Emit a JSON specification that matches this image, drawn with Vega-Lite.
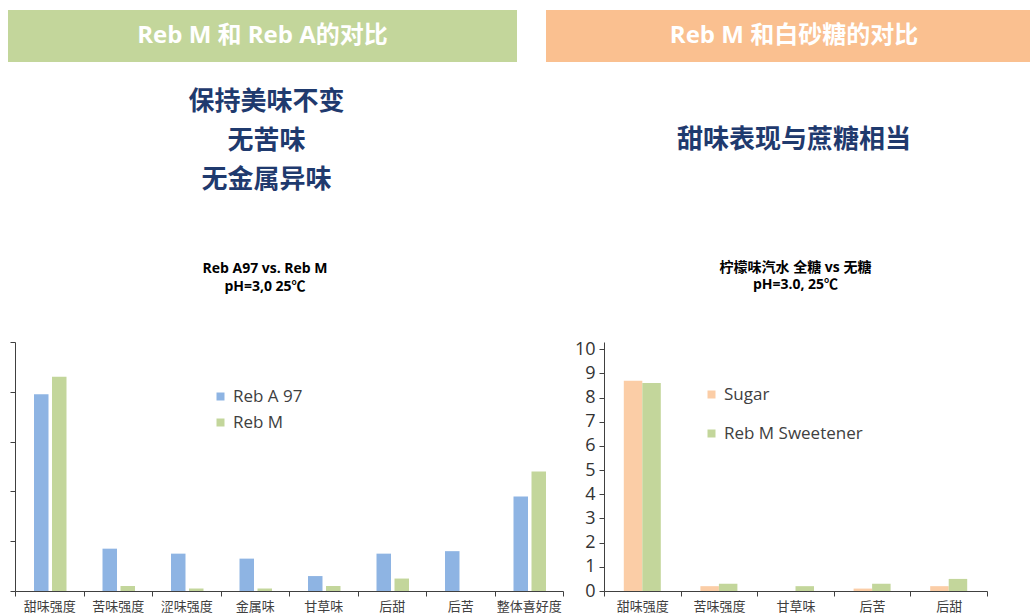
{
  "$schema": "https://vega.github.io/schema/vega-lite/v6.json",
  "background": "white",
  "padding": {"left": 8, "top": 10, "right": 0, "bottom": 0},
  "config": {
    "font": "Open Sans, Noto Sans CJK SC",
    "view": {"stroke": null},
    "axis": {"domainColor": "#404040", "tickColor": "#404040", "labelColor": "#404040", "grid": false, "title": null}
  },
  "resolve": {"scale": {"color": "independent"}, "legend": {"color": "independent"}},
  "spacing": 0,
  "vconcat": [
    {
      "spacing": 29,
      "hconcat": [
        {
          "width": 509, "height": 52,
          "view": {"fill": "#C3D69B", "stroke": null},
          "data": {"values": [{"label": "Reb M 和 Reb A的对比"}]},
          "mark": {"type": "text", "color": "white", "fontSize": 24, "fontWeight": "bold", "font": "Open Sans, Noto Sans CJK SC"},
          "encoding": {"text": {"field": "label"}}
        },
        {
          "width": 484, "height": 52,
          "view": {"fill": "#FAC090", "stroke": null},
          "data": {"values": [{"label": "Reb M 和白砂糖的对比"}]},
          "mark": {"type": "text", "color": "white", "fontSize": 24, "fontWeight": "bold", "dx": 6, "font": "Open Sans, Noto Sans CJK SC"},
          "encoding": {"text": {"field": "label"}}
        }
      ]
    },
    {
      "spacing": 29,
      "hconcat": [
        {
          "width": 509, "height": 198,
          "data": {"values": [{"label": "保持美味不变\n无苦味\n无金属异味"}]},
          "mark": {"type": "text", "color": "#1F3A6E", "fontSize": 26, "fontWeight": "bold", "lineBreak": "\n", "lineHeight": 39, "dy": -59, "dx": 4, "font": "Noto Sans CJK SC"},
          "encoding": {"text": {"field": "label"}}
        },
        {
          "width": 484, "height": 198,
          "data": {"values": [{"label": "甜味表现与蔗糖相当"}]},
          "mark": {"type": "text", "color": "#1F3A6E", "fontSize": 26, "fontWeight": "bold", "dy": -21, "dx": 6, "font": "Noto Sans CJK SC"},
          "encoding": {"text": {"field": "label"}}
        }
      ]
    },
    {
      "spacing": 0,
      "resolve": {"scale": {"color": "independent"}, "legend": {"color": "independent"}},
      "hconcat": [
        {
          "width": 1, "height": 10,
          "data": {"values": [{}]},
          "mark": {"type": "text"},
          "encoding": {}
        },
        {
          "width": 548, "height": 249,
          "title": {"text": ["Reb A97 vs. Reb M", "pH=3,0 25℃"], "fontSize": 14, "fontWeight": "bold", "lineHeight": 17.5, "offset": 48, "dx": -24, "color": "#000000", "anchor": "middle"},
          "data": {"values": [
            {"attr": "甜味强度", "sample": "Reb A 97", "value": 7.9},
            {"attr": "甜味强度", "sample": "Reb M", "value": 8.6},
            {"attr": "苦味强度", "sample": "Reb A 97", "value": 1.7},
            {"attr": "苦味强度", "sample": "Reb M", "value": 0.2},
            {"attr": "涩味强度", "sample": "Reb A 97", "value": 1.5},
            {"attr": "涩味强度", "sample": "Reb M", "value": 0.1},
            {"attr": "金属味", "sample": "Reb A 97", "value": 1.3},
            {"attr": "金属味", "sample": "Reb M", "value": 0.1},
            {"attr": "甘草味", "sample": "Reb A 97", "value": 0.6},
            {"attr": "甘草味", "sample": "Reb M", "value": 0.2},
            {"attr": "后甜", "sample": "Reb A 97", "value": 1.5},
            {"attr": "后甜", "sample": "Reb M", "value": 0.5},
            {"attr": "后苦", "sample": "Reb A 97", "value": 1.6},
            {"attr": "后苦", "sample": "Reb M", "value": 0},
            {"attr": "整体喜好度", "sample": "Reb A 97", "value": 3.8},
            {"attr": "整体喜好度", "sample": "Reb M", "value": 4.8}
          ]},
          "encoding": {
            "x": {"field": "attr", "type": "nominal", "sort": ["甜味强度", "苦味强度", "涩味强度", "金属味", "甘草味", "后甜", "后苦", "整体喜好度"],
                  "scale": {"paddingInner": 0, "paddingOuter": 0},
                  "axis": {"labelAngle": 0, "tickBand": "extent", "tickSize": 5, "labelPadding": 4, "labelFontSize": 13, "labelFont": "Noto Sans CJK SC"}},
            "y": {"field": "value", "type": "quantitative", "scale": {"domain": [0, 10], "nice": false},
                  "axis": {"labels": false, "values": [0, 2, 4, 6, 8, 10], "tickSize": 5, "minExtent": 6, "maxExtent": 6}},
            "color": {"field": "sample", "type": "nominal", "scale": {"domain": ["Reb A 97", "Reb M"], "range": ["#8EB4E3", "#C3D69B"]},
                      "legend": {"title": null, "orient": "none", "legendX": 197, "legendY": 46, "symbolType": "square", "symbolSize": 64, "labelFontSize": 17, "labelColor": "#404040", "rowPadding": 8, "labelFont": "Open Sans"}}
          },
          "layer": [
            {"transform": [{"filter": "datum.sample === 'Reb A 97'"}], "mark": {"type": "bar", "width": 14.5, "xOffset": -8}},
            {"transform": [{"filter": "datum.sample === 'Reb M'"}], "mark": {"type": "bar", "width": 14.5, "xOffset": 10}}
          ]
        },
        {
          "width": 383, "height": 249,
          "title": {"text": ["柠檬味汽水  全糖 vs 无糖", "pH=3.0, 25℃"], "fontSize": 14, "fontWeight": "bold", "lineHeight": 17.5, "offset": 48, "color": "#000000", "anchor": "middle"},
          "data": {"values": [
            {"attr": "甜味强度", "sample": "Sugar", "value": 8.7},
            {"attr": "甜味强度", "sample": "Reb M Sweetener", "value": 8.6},
            {"attr": "苦味强度", "sample": "Sugar", "value": 0.2},
            {"attr": "苦味强度", "sample": "Reb M Sweetener", "value": 0.3},
            {"attr": "甘草味", "sample": "Sugar", "value": 0},
            {"attr": "甘草味", "sample": "Reb M Sweetener", "value": 0.2},
            {"attr": "后苦", "sample": "Sugar", "value": 0.1},
            {"attr": "后苦", "sample": "Reb M Sweetener", "value": 0.3},
            {"attr": "后甜", "sample": "Sugar", "value": 0.2},
            {"attr": "后甜", "sample": "Reb M Sweetener", "value": 0.5}
          ]},
          "encoding": {
            "x": {"field": "attr", "type": "nominal", "sort": ["甜味强度", "苦味强度", "甘草味", "后苦", "后甜"],
                  "scale": {"paddingInner": 0, "paddingOuter": 0},
                  "axis": {"labelAngle": 0, "tickBand": "extent", "tickSize": 5, "labelPadding": 4, "labelFontSize": 13, "labelFont": "Noto Sans CJK SC"}},
            "y": {"field": "value", "type": "quantitative", "scale": {"domain": [0, 10.3], "nice": false},
                  "axis": {"values": [0, 1, 2, 3, 4, 5, 6, 7, 8, 9, 10], "tickSize": 5, "labelFontSize": 18, "labelPadding": 4, "labelColor": "#333333", "minExtent": 40, "maxExtent": 40}},
            "color": {"field": "sample", "type": "nominal", "scale": {"domain": ["Sugar", "Reb M Sweetener"], "range": ["#FBCDA6", "#C3D69B"]},
                      "legend": {"title": null, "orient": "none", "legendX": 99, "legendY": 44, "symbolType": "square", "symbolSize": 64, "labelFontSize": 17, "labelColor": "#404040", "rowPadding": 21, "labelFont": "Open Sans"}}
          },
          "layer": [
            {"transform": [{"filter": "datum.sample === 'Sugar'"}], "mark": {"type": "bar", "width": 18.5, "xOffset": -9.25}},
            {"transform": [{"filter": "datum.sample === 'Reb M Sweetener'"}], "mark": {"type": "bar", "width": 18.5, "xOffset": 9.25}}
          ]
        }
      ]
    }
  ]
}
